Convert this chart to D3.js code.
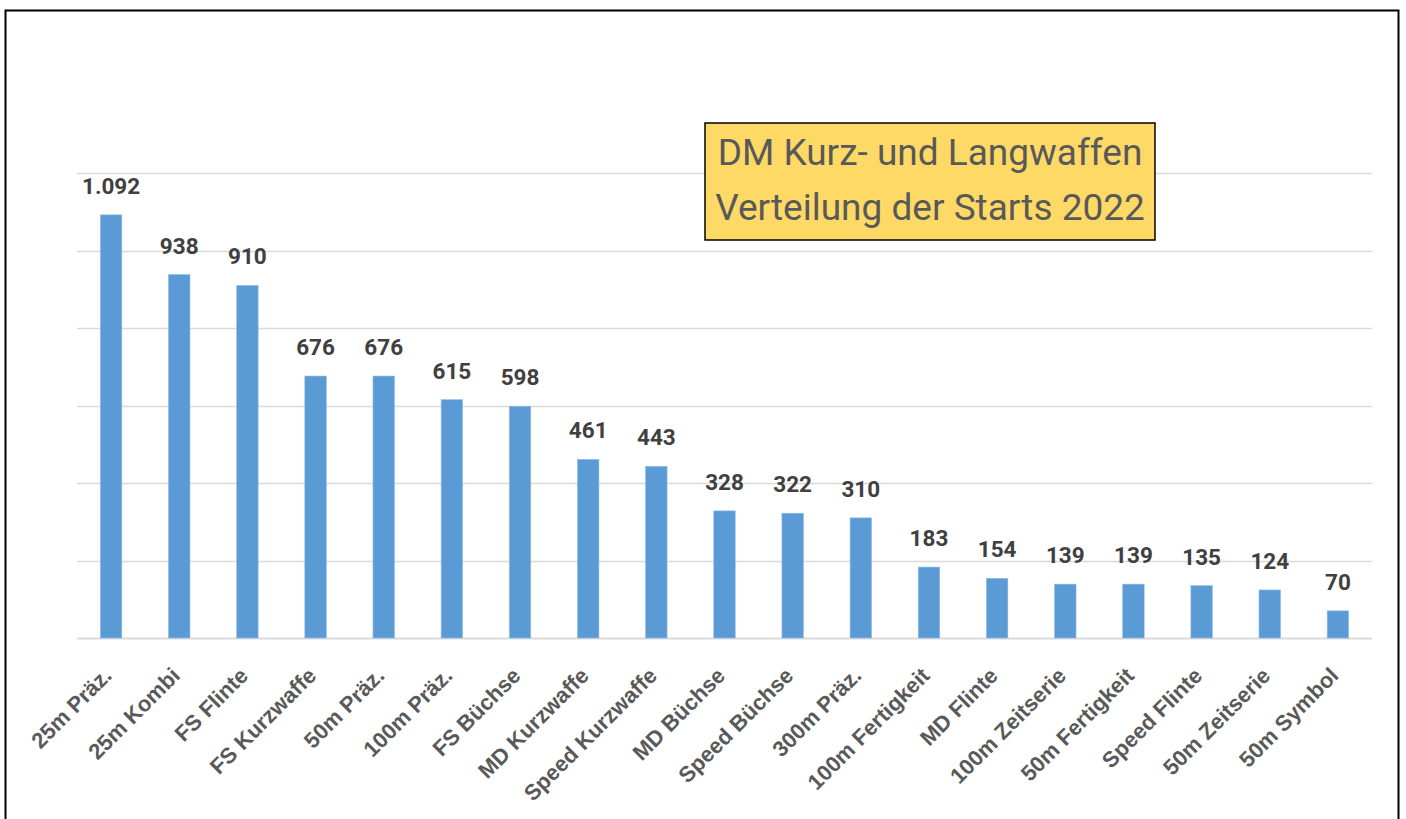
<!DOCTYPE html>
<html>
<head>
<meta charset="utf-8">
<script src="https://cdn.jsdelivr.net/npm/d3@7.9.0/dist/d3.min.js"></script>
<style>
  html, body { margin: 0; padding: 0; background: #fff; }
  svg { display: block; }
</style>
</head>
<body>
<svg id="chart" width="1406" height="819"></svg>
<script>
// Disziplinen und Anzahl der Starts
const categories = [
  "25m Präz.", "25m Kombi", "FS Flinte", "FS Kurzwaffe", "50m Präz.",
  "100m Präz.", "FS Büchse", "MD Kurzwaffe", "Speed Kurzwaffe", "MD Büchse",
  "Speed Büchse", "300m Präz.", "100m Fertigkeit", "MD Flinte", "100m Zeitserie",
  "50m Fertigkeit", "Speed Flinte", "50m Zeitserie", "50m Symbol"
];
const starts = [1092, 938, 910, 676, 676, 615, 598, 461, 443, 328, 322, 310, 183, 154, 139, 139, 135, 124, 70];
const gridTicks = [0, 200, 400, 600, 800, 1000, 1200];
const titleLines = ["DM Kurz- und Langwaffen", "Verteilung der Starts 2022"];

const svg = d3.select("#chart");

// outer frame
svg.append("rect")
  .attr("x", 5.5).attr("y", 10.5)
  .attr("width", 1393).attr("height", 830)
  .attr("fill", "none")
  .attr("stroke", "#000")
  .attr("stroke-width", 2);

const plotLeft = 77, plotRight = 1372, plotTop = 173, plotBottom = 638;

const x = d3.scaleBand()
  .domain(categories)
  .range([plotLeft, plotRight])
  .paddingInner(0.685)
  .paddingOuter(0.3425);

const y = d3.scaleLinear()
  .domain([0, 1200])
  .range([plotBottom, plotTop]);

// gridlines
svg.append("g")
  .selectAll("line")
  .data(gridTicks)
  .join("line")
  .attr("x1", plotLeft).attr("x2", plotRight)
  .attr("y1", d => Math.round(y(d)) + 0.5)
  .attr("y2", d => Math.round(y(d)) + 0.5)
  .attr("stroke", "#d9d9d9")
  .attr("stroke-width", d => d === 0 ? 2 : 1.3);

// bars
svg.append("g")
  .selectAll("rect")
  .data(starts)
  .join("rect")
  .attr("x", (d, i) => x(categories[i]))
  .attr("y", d => y(d))
  .attr("width", x.bandwidth())
  .attr("height", d => y(0) - y(d))
  .attr("fill", "#5b9bd5")
  .attr("stroke", "#8fbbe6")
  .attr("stroke-width", 0.6);

// value labels
const fmt = d3.formatLocale({ decimal: ",", thousands: ".", grouping: [3], currency: ["", "€"] }).format(",d");
svg.append("g")
  .selectAll("text")
  .data(starts)
  .join("text")
  .attr("x", (d, i) => x(categories[i]) + x.bandwidth() / 2)
  .attr("y", d => y(d) - 21)
  .attr("text-anchor", "middle")
  .attr("font-family", "Roboto, sans-serif")
  .attr("font-weight", "bold")
  .attr("font-size", 22.5)
  .attr("fill", "#404040")
  .text(d => fmt(d));

// category labels, rotated
svg.append("g")
  .selectAll("text")
  .data(categories)
  .join("text")
  .attr("transform", d => `translate(${x(d) + x.bandwidth() / 2 + 2},${plotBottom + 39}) rotate(-45)`)
  .attr("text-anchor", "end")
  .attr("font-family", "'Liberation Sans', Arial, sans-serif")
  .attr("font-weight", "bold")
  .attr("font-size", 22)
  .attr("fill", "#595959")
  .text(d => d);

// title box
const tb = svg.append("g");
tb.append("rect")
  .attr("x", 705).attr("y", 123)
  .attr("width", 450).attr("height", 117)
  .attr("fill", "#ffd966")
  .attr("stroke", "#000")
  .attr("stroke-width", 1.5);
tb.selectAll("text")
  .data(titleLines)
  .join("text")
  .attr("x", 930)
  .attr("y", (d, i) => 165 + i * 55)
  .attr("text-anchor", "middle")
  .attr("font-family", "Roboto, sans-serif")
  .attr("font-size", 37)
  .attr("fill", "#595959")
  .text(d => d);
</script>
</body>
</html>
